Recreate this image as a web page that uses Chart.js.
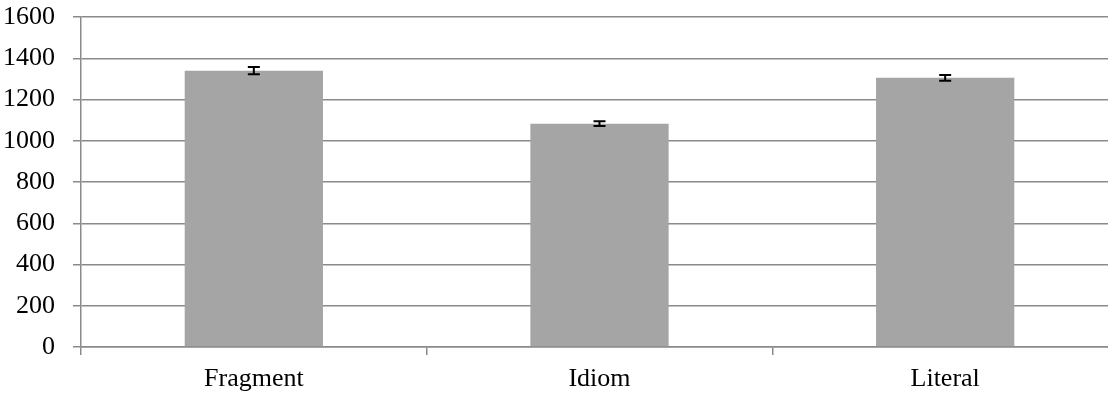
<!DOCTYPE html>
<html>
<head>
<meta charset="utf-8">
<script src="https://cdn.jsdelivr.net/npm/chart.js@4/dist/chart.umd.min.js"></script>
<style>
    html, body { margin: 0; padding: 0; background: #fff; overflow: hidden; }
    #wrap { width: 1118px; height: 394px; }
</style>
</head>
<body>
<div id="wrap"><canvas id="chart"></canvas></div>
<script>
const categories = ['Fragment', 'Idiom', 'Literal'];
const means = [1340, 1083, 1305];
const errors = [18, 12, 14];
const yTicks = [0, 200, 400, 600, 800, 1000, 1200, 1400, 1600];

const axisColor = '#8a8a8a';
const fontSpec = { family: '"Liberation Serif", "Times New Roman", serif', size: 26 };

// draws the error whiskers on top of each bar
const errorBars = {
    id: 'errorBars',
    afterDatasetsDraw(chart) {
        const ctx = chart.ctx;
        const y = chart.scales.y;
        const meta = chart.getDatasetMeta(0);
        ctx.save();
        ctx.strokeStyle = '#000';
        ctx.lineWidth = 2;
        meta.data.forEach((bar, i) => {
            const top = y.getPixelForValue(means[i] + errors[i]);
            const bottom = y.getPixelForValue(means[i] - errors[i]);
            ctx.beginPath();
            ctx.moveTo(bar.x, top);
            ctx.lineTo(bar.x, bottom);
            ctx.moveTo(bar.x - 6, top);
            ctx.lineTo(bar.x + 6, top);
            ctx.moveTo(bar.x - 6, bottom);
            ctx.lineTo(bar.x + 6, bottom);
            ctx.stroke();
        });
        ctx.restore();
    }
};

new Chart(document.getElementById('chart').getContext('2d'), {
    type: 'bar',
    data: {
        labels: categories,
        datasets: [{
            data: means,
            backgroundColor: '#a5a5a5',
            borderWidth: 0,
            categoryPercentage: 0.4,
            barPercentage: 1
        }]
    },
    options: {
        responsive: true,
        maintainAspectRatio: false,
        animation: false,
        layout: { padding: { top: 17, right: 0, bottom: 0, left: 0 } },
        plugins: { legend: { display: false }, tooltip: { enabled: false } },
        scales: {
            x: {
                afterFit: (scale) => {
                    scale.height = 47;
                    scale.paddingLeft = 0;
                    scale.paddingRight = 0;
                },
                grid: {
                    drawOnChartArea: false,
                    drawTicks: true,
                    tickLength: 8,
                    color: axisColor,
                    lineWidth: 1.5
                },
                border: { color: axisColor, width: 1.5 },
                ticks: { color: '#000', font: fontSpec, padding: 9 }
            },
            y: {
                min: 0,
                max: 1600,
                afterFit: (scale) => {
                    scale.width = 81;
                    scale.paddingTop = 0;
                    scale.paddingBottom = 0;
                },
                afterBuildTicks: (scale) => { scale.ticks = yTicks.map(v => ({ value: v })); },
                grid: {
                    color: axisColor,
                    lineWidth: 1.5,
                    tickLength: 8
                },
                border: { color: axisColor, width: 1.5 },
                ticks: {
                    color: '#000',
                    font: fontSpec,
                    padding: 18,
                    callback: (value) => String(value)
                }
            }
        }
    },
    plugins: [errorBars]
});
</script>
</body>
</html>
